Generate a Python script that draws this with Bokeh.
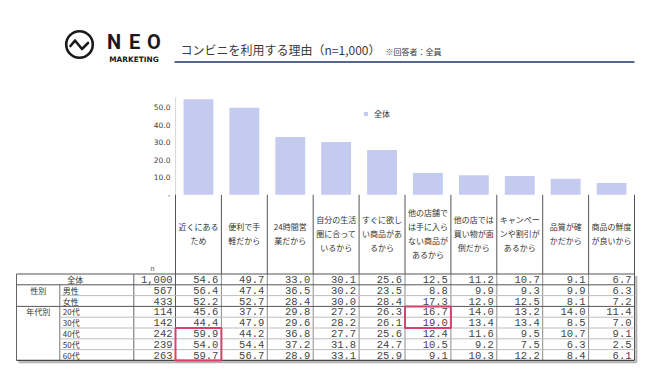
from bokeh.plotting import figure
from bokeh.models import Range1d, ColumnDataSource, Legend, LegendItem
from bokeh.core.properties import value
from bokeh.embed import file_html
from bokeh.resources import INLINE

# ---------------- data ----------------
categories = [
    "近くにある\nため",
    "便利で手\n軽だから",
    "24時間営\n業だから",
    "自分の生活\n圏に合って\nいるから",
    "すぐに欲し\nい商品があ\nるから",
    "他の店舗で\nは手に入ら\nない商品が\nあるから",
    "他の店では\n買い物が面\n倒だから",
    "キャンペー\nンや割引が\nあるから",
    "品質が確\nかだから",
    "商品の鮮度\nが良いから",
]
overall = [54.6, 49.7, 33.0, 30.1, 25.6, 12.5, 11.2, 10.7, 9.1, 6.7]
male = [56.4, 47.4, 36.5, 30.2, 23.5, 8.8, 9.9, 9.3, 9.9, 6.3]
female = [52.2, 52.7, 28.4, 30.0, 28.4, 17.3, 12.9, 12.5, 8.1, 7.2]
age20 = [45.6, 37.7, 29.8, 27.2, 26.3, 16.7, 14.0, 13.2, 14.0, 11.4]
age30 = [44.4, 47.9, 29.6, 28.2, 26.1, 19.0, 13.4, 13.4, 8.5, 7.0]
age40 = [59.9, 44.2, 36.8, 27.7, 25.6, 12.4, 11.6, 9.5, 10.7, 9.1]
age50 = [54.0, 54.4, 37.2, 31.8, 24.7, 10.5, 9.2, 7.5, 6.3, 2.5]
age60 = [59.7, 56.7, 28.9, 33.1, 25.9, 9.1, 10.3, 12.2, 8.4, 6.1]
row_labels = ["全体", "男性", "女性", "20代", "30代", "40代", "50代", "60代"]
group_labels = ["", "性別", "", "年代別", "", "", "", ""]
row_n = [1000, 567, 433, 114, 142, 242, 239, 263]
y_ticks = [0, 10, 20, 30, 40, 50]
y_tick_labels = ["-", "10.0", "20.0", "30.0", "40.0", "50.0"]
series_name = "全体"
highlight_cols = [0, 5]
highlight_row_first = [5, 3]
highlight_row_last = [7, 4]
title_text = "コンビニを利用する理由（n=1,000）"
note_text = "※回答者：全員"

table_rows = [overall, male, female, age20, age30, age40, age50, age60]

# ---------------- layout constants (picture pixels) ----------------
W, H = 638, 364
COL_X0, COL_W = 175.0, 45.9
BAR_Y0, PCT_PX = 194.3, 1.752
ROW_Y0, ROW_H = 273.5, 10.8
TBL_LEFT, GRP_X, NCOL_X = 16.0, 59.3, 133.3
TBL_RIGHT = COL_X0 + 10 * COL_W
NROWS = len(row_labels)
TBL_BOTTOM = ROW_Y0 + NROWS * ROW_H

JP_NAME = "Noto Sans CJK JP"
JP = value(JP_NAME)
NUM = value("Liberation Mono")

p = figure(width=W, height=H, x_range=Range1d(0, W), y_range=Range1d(H, 0),
           toolbar_location=None, output_backend="svg", min_border=0,
           x_axis_type=None, y_axis_type=None)
p.grid.grid_line_color = None
p.outline_line_color = None
p.background_fill_color = "white"
p.border_fill_color = "white"

p.extra_x_ranges = {"col": Range1d((0 - COL_X0) / COL_W, (W - COL_X0) / COL_W)}
p.extra_y_ranges = {
    "pct": Range1d((BAR_Y0 - H) / PCT_PX, (BAR_Y0 - 0) / PCT_PX),
    "row": Range1d((H - ROW_Y0) / ROW_H, (0 - ROW_Y0) / ROW_H),
}

# ---------------- header ----------------
p.circle(x=[79], y=[44], radius=13.3, fill_color=None, line_color="#1a1a1a", line_width=2.6)
p.line(x=[70, 74.5, 81.5, 87.5], y=[45.5, 40, 48.5, 42.5], line_color="#1a1a1a",
       line_width=2.6, line_join="round", line_cap="round")
p.text(x=[113.5, 134, 153.5], y=[41.5] * 3, text=["N", "E", "O"], text_font=value("Roboto"),
       text_font_style="bold", text_font_size="20px", text_color="#1a1a1a",
       text_align="center", text_baseline="middle")
p.text(x=[133.5], y=[59], text=["MARKETING"], text_font=value("DejaVu Sans"),
       text_font_style="bold", text_font_size="7.4px", text_color="#1a1a1a",
       text_align="center", text_baseline="middle")
p.text(x=[180], y=[49], text=[title_text], text_font=JP, text_font_size="12px",
       text_color="#3a3a3a", text_align="left", text_baseline="middle")
p.text(x=[385], y=[51], text=[note_text], text_font=JP, text_font_size="8px",
       text_color="#3a3a3a", text_align="left", text_baseline="middle")
p.segment(x0=[174], y0=[61.5], x1=[634], y1=[61.5], line_color="#1f3366", line_width=1.6)

# ---------------- bar chart ----------------
p.segment(x0=[COL_X0], y0=[BAR_Y0], x1=[COL_X0], y1=[97], line_color="#d9d9d9", line_width=1)
bar_src = ColumnDataSource(dict(x=[i + 0.5 for i in range(len(categories))], top=overall))
bars = p.vbar(x="x", top="top", bottom=0, width=0.65, source=bar_src,
              x_range_name="col", y_range_name="pct", fill_color="#c5cbef", line_color=None)
p.text(x=[170] * len(y_ticks), y=y_ticks, text=y_tick_labels, y_range_name="pct",
       text_font=value("DejaVu Sans"), text_font_size="7.5px", text_color="#404040",
       text_align="right", text_baseline="middle")

legend = Legend(items=[LegendItem(label=series_name, renderers=[bars])], location=(363, 245),
                border_line_color=None, background_fill_alpha=0, padding=0, margin=0,
                glyph_width=5, glyph_height=5, label_standoff=6, label_height=10,
                label_text_font=JP_NAME, label_text_font_size="8px", label_text_color="#333333")
p.add_layout(legend)

# category labels
p.text(x=[i + 0.5 for i in range(len(categories))], y=[233] * len(categories), text=categories,
       x_range_name="col", text_font=JP, text_font_size="8px", text_color="#333333",
       text_align="center", text_baseline="middle", text_line_height=1.3)

# ---------------- grid lines ----------------
ncol = len(categories)
p.segment(x0=list(range(ncol + 1)), y0=[BAR_Y0] * (ncol + 1), x1=list(range(ncol + 1)),
          y1=[ROW_Y0] * (ncol + 1), x_range_name="col", line_color="#555555", line_width=1)
p.segment(x0=list(range(1, ncol)), y0=[ROW_Y0] * (ncol - 1), x1=list(range(1, ncol)),
          y1=[TBL_BOTTOM] * (ncol - 1), x_range_name="col", line_color="#8a8a8a", line_width=1)
p.segment(x0=[0, ncol], y0=[ROW_Y0] * 2, x1=[0, ncol], y1=[TBL_BOTTOM] * 2,
          x_range_name="col", line_color="#555555", line_width=1)
p.segment(x0=[TBL_LEFT, NCOL_X], y0=[ROW_Y0] * 2, x1=[TBL_LEFT, NCOL_X], y1=[TBL_BOTTOM] * 2,
          line_color="#666666", line_width=1)
p.segment(x0=[GRP_X], y0=[ROW_Y0 + ROW_H], x1=[GRP_X], y1=[TBL_BOTTOM],
          line_color="#777777", line_width=1)
major = [0, 1, 3]
minor = [2, 4, 5, 6, 7]
p.segment(x0=[TBL_LEFT] * len(major), y0=major, x1=[TBL_RIGHT] * len(major), y1=major,
          y_range_name="row", line_color="#555555", line_width=1)
p.segment(x0=[GRP_X] * len(minor), y0=minor, x1=[TBL_RIGHT] * len(minor), y1=minor,
          y_range_name="row", line_color="#bdbdbd", line_width=1)
p.segment(x0=[TBL_LEFT], y0=[NROWS], x1=[TBL_RIGHT], y1=[NROWS], y_range_name="row",
          line_color="#444444", line_width=1.4)
p.segment(x0=[TBL_LEFT + 2], y0=[TBL_BOTTOM + 1.8], x1=[TBL_RIGHT + 2], y1=[TBL_BOTTOM + 1.8],
          line_color="#b0b0b0", line_width=2)
p.segment(x0=[TBL_RIGHT + 1.8], y0=[ROW_Y0 + 2], x1=[TBL_RIGHT + 1.8], y1=[TBL_BOTTOM + 2],
          line_color="#b0b0b0", line_width=2)

# ---------------- table text ----------------
p.text(x=[152], y=[267], text=["n"], text_font=JP, text_font_size="7px", text_color="#555555",
       text_align="center", text_baseline="middle")
p.text(x=[(TBL_LEFT + NCOL_X) / 2], y=[0.5], text=[row_labels[0]], y_range_name="row",
       text_font=JP, text_font_size="8px", text_color="#333333",
       text_align="center", text_baseline="middle")
p.text(x=[GRP_X + 3] * (NROWS - 1), y=[r + 0.5 for r in range(1, NROWS)], text=row_labels[1:],
       y_range_name="row", text_font=JP, text_font_size="8px", text_color="#333333",
       text_align="left", text_baseline="middle")
gi = [i for i, g in enumerate(group_labels) if g]
p.text(x=[(TBL_LEFT + GRP_X) / 2] * len(gi), y=[i + 0.5 for i in gi],
       text=[group_labels[i] for i in gi], y_range_name="row", text_font=JP,
       text_font_size="8px", text_color="#333333", text_align="center", text_baseline="middle")

pad = 3.0 / COL_W
p.text(x=[-pad] * NROWS, y=[r + 0.5 for r in range(NROWS)], text=[f"{n:,}" for n in row_n],
       x_range_name="col", y_range_name="row", text_font=NUM, text_font_size="10.5px",
       text_color="#444444", text_align="right", text_baseline="middle")
tx, ty, tt = [], [], []
for r, vals in enumerate(table_rows):
    for c, v in enumerate(vals):
        tx.append(c + 1 - pad)
        ty.append(r + 0.5)
        tt.append(f"{v:.1f}")
p.text(x=tx, y=ty, text=tt, x_range_name="col", y_range_name="row", text_font=NUM,
       text_font_size="10.5px", text_color="#444444", text_align="right", text_baseline="middle")

p.quad(left=highlight_cols, right=[c + 1 for c in highlight_cols],
       top=highlight_row_first, bottom=[r + 1 for r in highlight_row_last],
       x_range_name="col", y_range_name="row", fill_color=None,
       line_color="#d8416b", line_width=2)

open("out.html", "w").write(file_html(p, INLINE))
